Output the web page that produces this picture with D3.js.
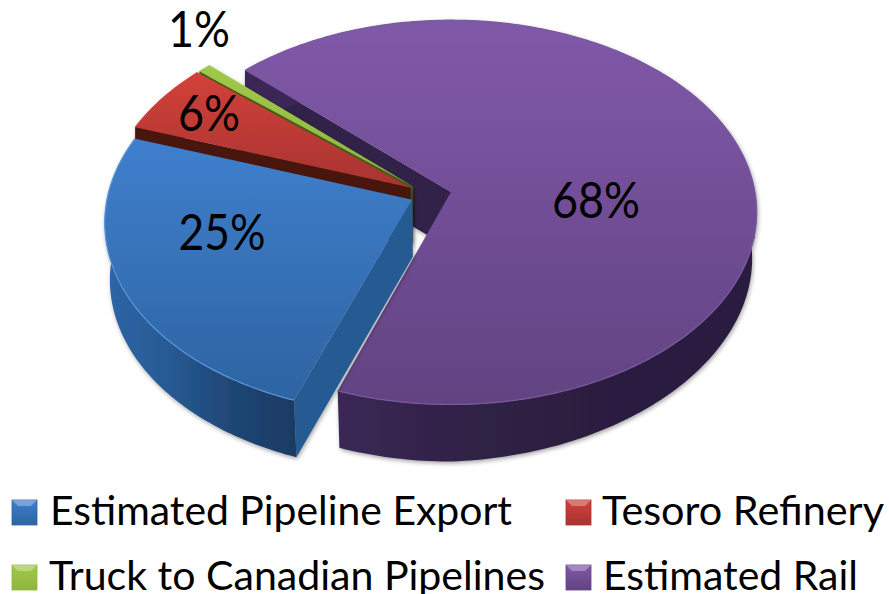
<!DOCTYPE html>
<html lang="en">

<head>
    <meta charset="UTF-8">
    <title>Crude export shares</title>
    <style>
        html, body { margin: 0; padding: 0; background: #fff; }
        svg { display: block; }
        text { font-family: Lato, "Open Sans", sans-serif; fill: #000; }
    </style>
</head>

<body>
    <svg width="889" height="594"></svg>
    <script src="https://d3js.org/d3.v7.min.js"></script>
    <script>
        // data, in drawing order of the pie (clockwise)
        const categories = ["Estimated Pipeline Export", "Tesoro Refinery", "Truck to Canadian Pipelines", "Estimated Rail"];
        const shares = [24.9, 5.9, 0.8, 68.4];
        const shareLabels = ["25%", "6%", "1%", "68%"];

        // look of each slice
        const palette = [
            { top: ["#3f7fcd", "#2d64a2"], cut: "#275a92", wall: ["#2e66a6", "#275a93", "#1f4674", "#1a3a62"], rim: "#5b95d8" },
            { top: ["#d2413a", "#a83331"], cut: "#4a1311", wall: ["#4a1311", "#4a1311"], rim: "#d2413a" },
            { top: ["#a0c94a", "#8eb63e"], cut: "#4c6116", wall: ["#4c6116", "#4c6116"], rim: "#a0c94a" },
            { top: ["#8059a9", "#624382"], cut: "#30224a", wall: ["#3a2856", "#2f2045", "#2c1f3f", "#2c1f3f"], rim: "#7a5aa0" }
        ];
        // how far each slice is pulled out of the pie, in radius units
        const explode = [[-0.127, 0.04], [-0.133, -0.024], [-0.126, -0.03], [0, 0]];
        const wallSpan = [[105, 297], [135, 412], [197, 413], [340, 755]];
        const labelSpots = [[222, 250], [209, 131], [199, 47], [596, 218]];

        const startDeg = 199.6, tilt = 0.106, depth = 57;

        const svg = d3.select("svg"),
            defs = svg.append("defs");

        const x = d3.scaleLinear().domain([0, 1]).range([451, 755]),
            y = d3.scaleLinear().domain([0, 1]).range([192, 382]);

        // tilted disc: points nearer the viewer get spread out a little
        function project(px, py) {
            const w = 1 - tilt * py;
            return [x(px / w), y(py / w)];
        }

        function rimPoint(angle, off) {
            return project(off[0] + Math.sin(angle), off[1] - Math.cos(angle));
        }

        // same point on the underside of the disc
        function under(p) {
            const cx = x(0),
                squeeze = p[1] > y(0) ? 0.985 : 1,
                fall = depth - 0.035 * Math.max(0, p[0] - cx);
            return [cx + (p[0] - cx) * squeeze, p[1] + fall];
        }

        const rad = d => d * Math.PI / 180;
        const pie = d3.pie().sort(null).startAngle(rad(startDeg)).endAngle(rad(startDeg + 360));
        const line = d3.line();
        const closed = d3.line().curve(d3.curveLinearClosed);

        function arcPoints(d, off) {
            const n = Math.max(2, Math.ceil((d.endAngle - d.startAngle) / rad(1)));
            return d3.range(n + 1).map(i => rimPoint(d.startAngle + (d.endAngle - d.startAngle) * i / n, off));
        }

        // gradients
        palette.forEach((c, i) => {
            const t = defs.append("linearGradient").attr("id", "top" + i)
                .attr("x1", 0).attr("y1", 0).attr("x2", 0).attr("y2", 1);
            t.selectAll("stop").data(c.top).join("stop")
                .attr("offset", (d, j) => j / (c.top.length - 1)).attr("stop-color", d => d);
            const w = defs.append("linearGradient").attr("id", "wall" + i)
                .attr("gradientUnits", "userSpaceOnUse")
                .attr("x1", wallSpan[i][0]).attr("y1", 0).attr("x2", wallSpan[i][1]).attr("y2", 0);
            w.selectAll("stop").data(c.wall).join("stop")
                .attr("offset", (d, j) => j / (c.wall.length - 1)).attr("stop-color", d => d);
        });

        const shadow = defs.append("filter").attr("id", "soft")
            .attr("x", "-5%").attr("y", "-5%").attr("width", "110%").attr("height", "110%");
        shadow.append("feDropShadow").attr("dx", 1).attr("dy", 2).attr("stdDeviation", 2)
            .attr("flood-color", "#000").attr("flood-opacity", 0.35);

        const slices = pie(shares).map((d, i) => ({ d, i }));

        // far slice first, blue last so that it sits over the red wall
        const paintOrder = [3, 2, 1, 0];

        const g = svg.append("g").selectAll("g")
            .data(paintOrder.map(i => slices[i]))
            .join("g")
            .attr("filter", "url(#soft)");

        g.each(function ({ d, i }) {
            const el = d3.select(this),
                off = explode[i],
                c = palette[i],
                apex = project(off[0], off[1]),
                arc = arcPoints(d, off),
                first = arc[0];

            // cut face on the start side of the slice
            el.append("path")
                .attr("d", closed([apex, first, under(first), under(apex)]))
                .attr("fill", c.cut);

            // outer wall
            el.append("path")
                .attr("d", closed(arc.concat(arc.map(under).reverse())))
                .attr("fill", "url(#wall" + i + ")");

            // top face
            el.append("path")
                .attr("d", closed([apex].concat(arc)))
                .attr("fill", "url(#top" + i + ")");

            // light rim on the outer edge
            el.append("path")
                .attr("d", line(arc))
                .attr("fill", "none")
                .attr("stroke", c.rim)
                .attr("stroke-width", 1.2);
        });

        // percentage labels
        const labelWidth = [87, 62, 62, 88];
        svg.append("g").selectAll("text")
            .data(shareLabels)
            .join("text")
            .attr("x", (d, i) => labelSpots[i][0])
            .attr("y", (d, i) => labelSpots[i][1])
            .attr("text-anchor", "middle")
            .attr("font-size", 50)
            .attr("textLength", (d, i) => labelWidth[i])
            .attr("lengthAdjust", "spacingAndGlyphs")
            .text(d => d);

        // legend
        const legendBox = [[12, 500], [566, 500], [12, 565], [566, 565]];
        const legendText = [[50, 525, 462], [602, 525, 282], [49, 590, 496], [603, 590, 255]];
        const swatch = 25, bevel = 6;

        const legend = svg.append("g").selectAll("g")
            .data(categories)
            .join("g")
            .attr("transform", (d, i) => "translate(" + legendBox[i][0] + "," + legendBox[i][1] + ")");

        legend.append("rect")
            .attr("width", swatch).attr("height", swatch)
            .attr("fill", (d, i) => "url(#top" + i + ")")
            .attr("stroke", (d, i) => palette[i].top[1])
            .attr("stroke-width", 0.8);

        legend.append("path")
            .attr("d", closed([[0, 0], [swatch, 0], [swatch - bevel, bevel], [bevel, bevel]]))
            .attr("fill", "#fff")
            .attr("opacity", 0.3);

        legend.append("text")
            .attr("x", (d, i) => legendText[i][0] - legendBox[i][0])
            .attr("y", (d, i) => legendText[i][1] - legendBox[i][1])
            .attr("font-size", 40)
            .attr("textLength", (d, i) => legendText[i][2])
            .attr("lengthAdjust", "spacingAndGlyphs")
            .text(d => d);
    </script>
</body>

</html>
